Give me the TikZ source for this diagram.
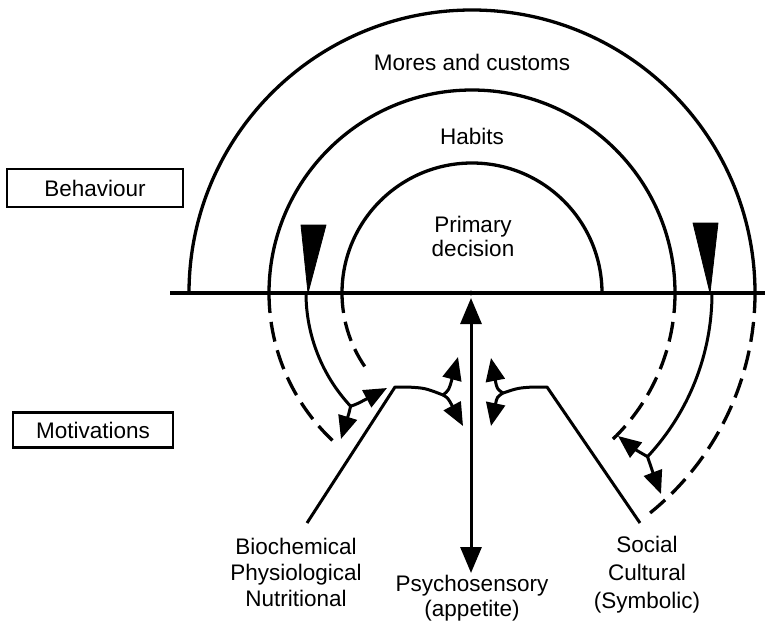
\documentclass[tikz,border=0pt]{standalone}
\usepackage{fontspec}
\setmainfont{Liberation Sans}
\usetikzlibrary{arrows.meta}
\begin{document}
\begin{tikzpicture}[x=1pt,y=1pt,
  every node/.style={font=\fontsize{22.5}{26}\selectfont, align=center, inner sep=0pt},
  ring/.style={line width=3.3pt},
  dashring/.style={line width=3.3pt, dash pattern=on 20pt off 9pt},
  link/.style={line width=3pt},
  tip/.style={line width=3pt, -{Triangle[length=23pt,width=19pt]}},
  dtip/.style={line width=3pt, {Triangle[length=26pt,width=21pt]}-{Triangle[length=26pt,width=21pt]}},
  labelbox/.style={draw, line width=2.4pt, inner sep=0pt},
  wedge/.style={fill=black, draw=black, line width=0.8pt, line join=round}]
\useasboundingbox (0,0) rectangle (765,-623);

% coordinates
\coordinate (C) at (472,-293);
\coordinate (baseL) at (170,-293);
\coordinate (baseR) at (765,-293);

% baseline
\draw[line width=3.8pt] (baseL) -- (baseR);

% upper semicircles
\draw[ring] (189,-293) arc[start angle=180,end angle=0,radius=283];
\draw[ring] (269,-293) arc[start angle=180,end angle=0,radius=203];
\draw[ring] (342,-293) arc[start angle=180,end angle=0,radius=130];

% labels in rings
\node (mores) at (472,-62) {Mores and customs};
\node (habits) at (472,-136) {Habits};
\node[font=\fontsize{22.5}{24}\selectfont] (primary) at (473,-236) {Primary\\decision};

% wedges
\draw[wedge] (301,-225) -- (326,-225) -- (308,-293) -- cycle;
\draw[wedge] (693,-223) -- (718,-223) -- (710,-293) -- cycle;

% dashed continuations
\draw[dashring] (269,-293) arc[start angle=180,end angle=229,radius=203];
\draw[dashring] (342,-293) arc[start angle=180,end angle=217,radius=130];
\draw[dashring] (675,-293) arc[start angle=0,end angle=-46,radius=203];
\draw[dashring] (755,-293) arc[start angle=0,end angle=-51,radius=283];

% solid curves from wedges
\draw[link] (306,-293) arc[start angle=180,end angle=223,radius=166] coordinate (bL);
\draw[link] (712,-293) arc[start angle=0,end angle=-43,radius=240] coordinate (bR);

% branch arrow tips
\coordinate (tL1) at (387,-388);
\coordinate (tL2) at (341,-439);
\coordinate (tR1) at (618,-436);
\coordinate (tR2) at (661,-494);
\draw[tip] (bL) .. controls (357,-404) .. (tL1);
\draw[tip] (bL) .. controls (349,-413) .. (tL2);
\draw[tip] (bR) .. controls (641,-454) .. (tR1);
\draw[tip] (bR) .. controls (650,-465) .. (tR2);

% V lines
\coordinate (vL0) at (307,-523);
\coordinate (vL1) at (395,-387);
\coordinate (vL2) at (407,-387);
\coordinate (bCL) at (443,-395);
\coordinate (vR0) at (640,-523);
\coordinate (vR1) at (547,-387);
\coordinate (vR2) at (533,-387);
\coordinate (bCR) at (503,-393);
\draw[link, line join=round] (vL0) -- (vL1) -- (vL2) .. controls (425,-388) .. (bCL);
\draw[link, line join=round] (vR0) -- (vR1) -- (vR2) .. controls (518,-388) .. (bCR);

\coordinate (tCL1) at (458,-357);
\coordinate (tCL2) at (463,-426);
\coordinate (tCR1) at (491,-358);
\coordinate (tCR2) at (491,-426);
\draw[tip] (bCL) .. controls (449,-390) .. (tCL1);
\draw[tip] (bCL) .. controls (448,-398) .. (tCL2);
\draw[tip] (bCR) .. controls (497,-389) .. (tCR1);
\draw[tip] (bCR) .. controls (497,-397) .. (tCR2);

% vertical double arrow
\coordinate (vTop) at (471,-298);
\coordinate (vBot) at (471,-573);
\draw[dtip] (vTop) -- (vBot);
\fill (C) ++(-1,0) circle (2.4);

% side boxes
\node[labelbox, minimum width=176pt, minimum height=38pt] (behaviour) at (95,-188) {Behaviour};
\node[labelbox, minimum width=160pt, minimum height=35pt] (motivations) at (93,-430) {Motivations};

% bottom labels
\node[font=\fontsize{22.5}{26}\selectfont] (bio) at (296,-572) {Biochemical\\Physiological\\Nutritional};
\node[font=\fontsize{22.5}{25}\selectfont] (psycho) at (472,-598) {Psychosensory\\(appetite)};
\node[font=\fontsize{22.5}{28}\selectfont] (social) at (647,-575) {Social\\Cultural\\(Symbolic)};
\end{tikzpicture}
\end{document}
